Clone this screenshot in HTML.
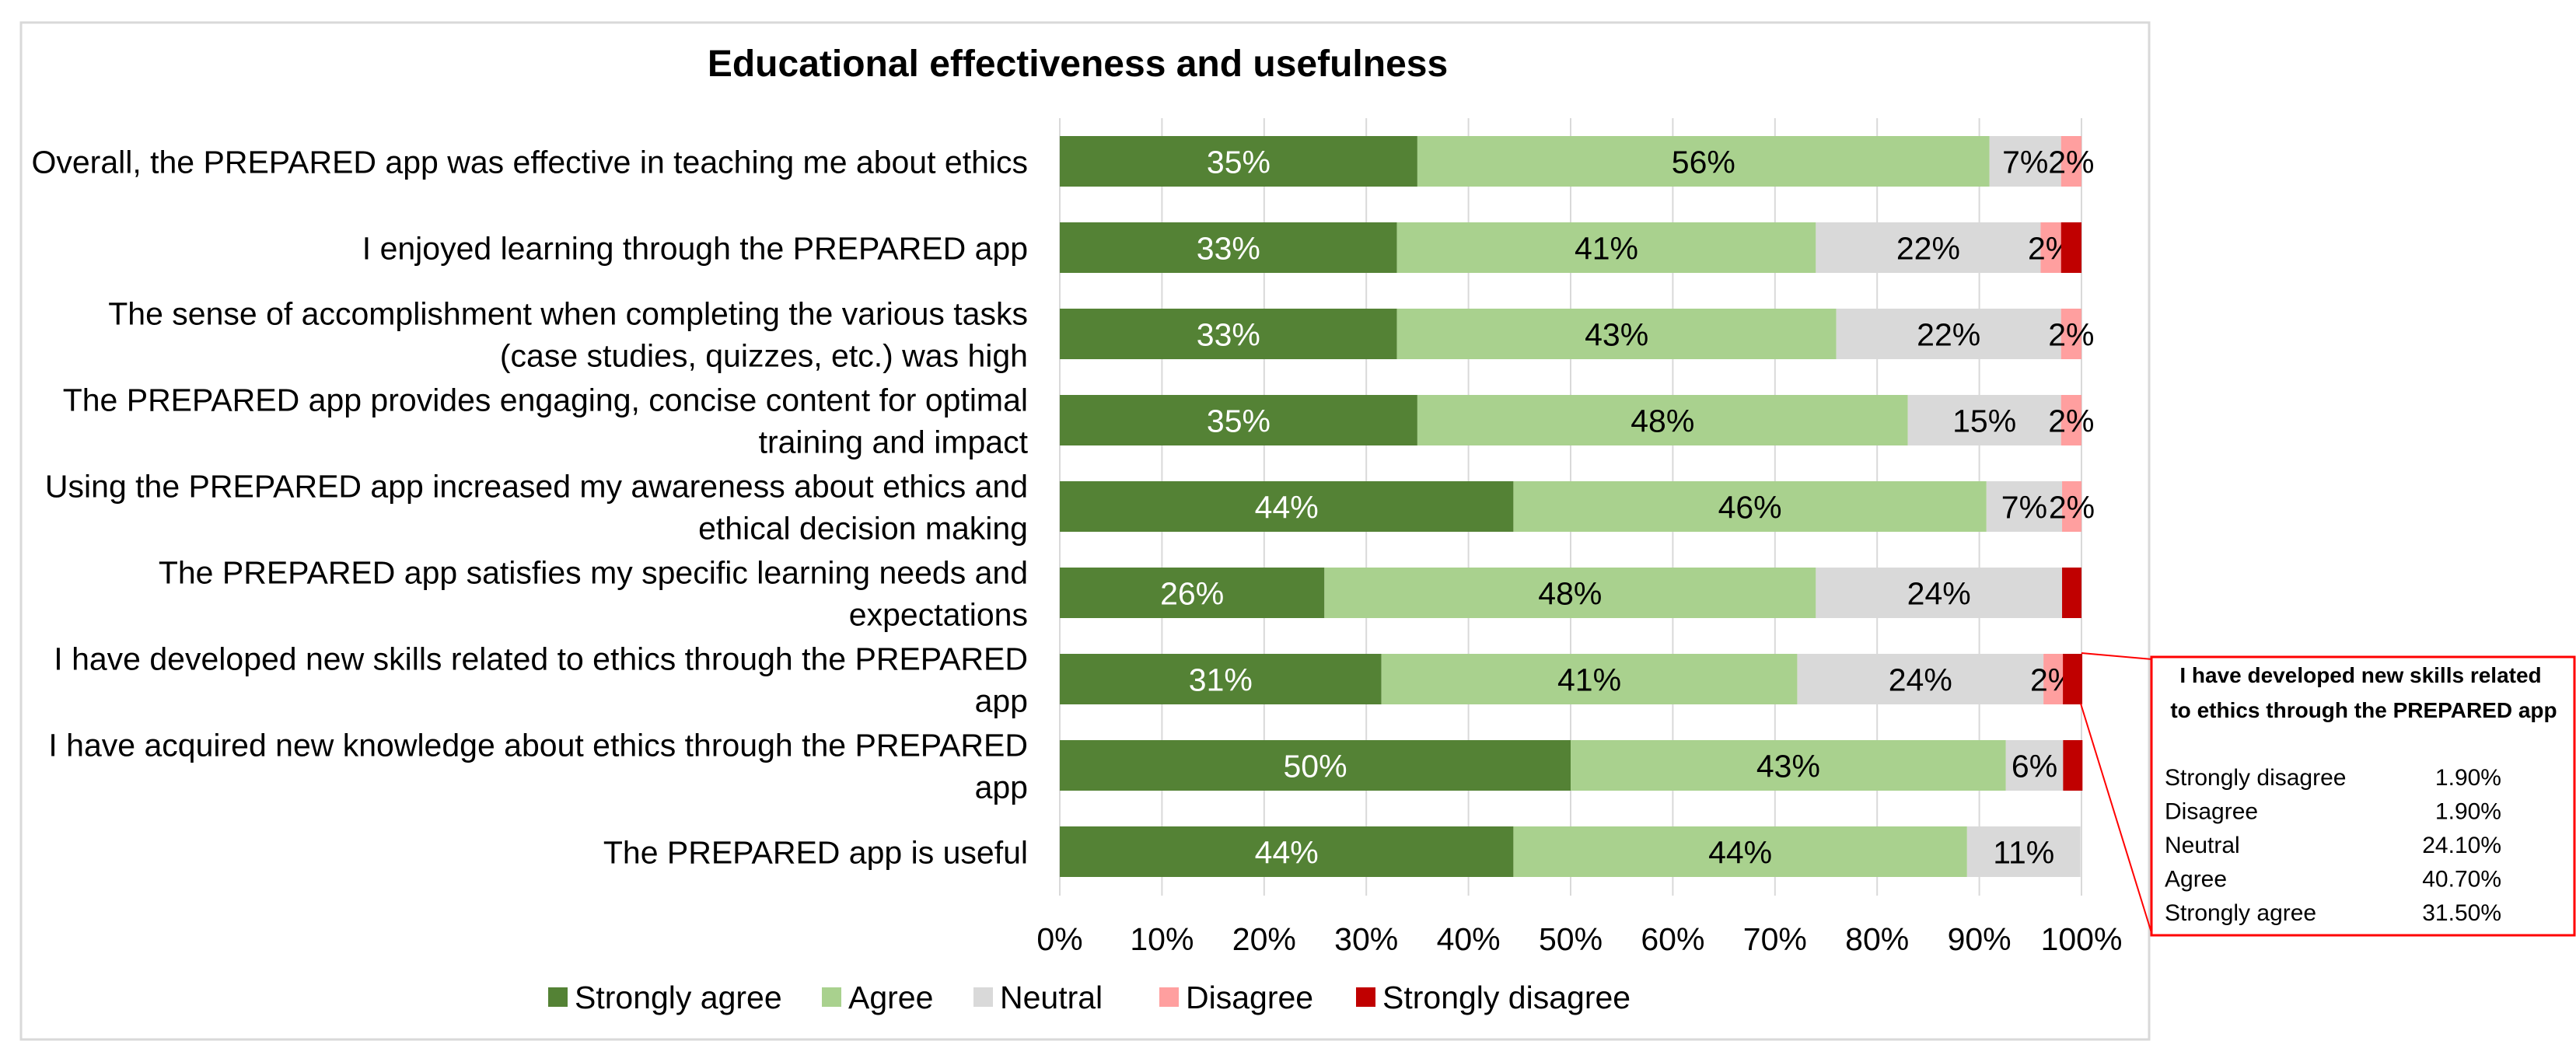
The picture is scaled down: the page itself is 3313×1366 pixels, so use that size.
<!DOCTYPE html>
<html><head><meta charset="utf-8"><style>
html,body{margin:0;padding:0;background:#fff;}
svg{display:block;font-family:"Liberation Sans",Arial,sans-serif;}
</style></head><body>
<svg id="chart" width="3313" height="1366" viewBox="0 0 3313 1366" xmlns="http://www.w3.org/2000/svg">
<rect x="27" y="29" width="2737" height="1308" fill="#fff" stroke="#d9d9d9" stroke-width="3"/>
<text x="1386" y="98" font-size="48" font-weight="bold" text-anchor="middle" fill="#000">Educational effectiveness and usefulness</text>
<g id="grid"></g>
<g id="bars"></g>
<g id="labels"></g>
<g id="ticks"></g>
<g id="legend"></g>
<g>
<line x1="2677" y1="840" x2="2768" y2="848" stroke="#ff0000" stroke-width="2"/>
<line x1="2676" y1="905" x2="2768" y2="1203" stroke="#ff0000" stroke-width="2"/>
<rect x="2767" y="845" width="544" height="358" fill="#fff" stroke="#ff0000" stroke-width="3"/>
<text x="3036" y="878" font-size="28" font-weight="bold" text-anchor="middle">I have developed new skills related</text>
<text x="3040" y="923" font-size="28" font-weight="bold" text-anchor="middle">to ethics through the PREPARED app</text>
<g id="callout-rows"></g>
</g>
</svg>
<script>
const categories = [
 ["Overall, the PREPARED app was effective in teaching me about ethics"],
 ["I enjoyed learning through the PREPARED app"],
 ["The sense of accomplishment when completing the various tasks","(case studies, quizzes, etc.) was high"],
 ["The PREPARED app provides engaging, concise content for optimal","training and impact"],
 ["Using the PREPARED app increased my awareness about ethics and","ethical decision making"],
 ["The PREPARED app satisfies my specific learning needs and","expectations"],
 ["I have developed new skills related to ethics through the PREPARED","app"],
 ["I have acquired new knowledge about ethics through the PREPARED","app"],
 ["The PREPARED app is useful"]
];
const seriesNames = ["Strongly agree","Agree","Neutral","Disagree","Strongly disagree"];
const stronglyAgree = [35, 33, 33, 35, 44.4, 25.9, 31.48, 50, 44.4];
const agree = [56, 41, 43, 48, 46.3, 48.1, 40.7, 42.6, 44.4];
const neutral = [7, 22, 22, 15, 7.4, 24.1, 24.1, 5.6, 11.1];
const disagree = [2, 2, 2, 2, 1.9, 0, 1.9, 0, 0];
const stronglyDisagree = [0, 2, 0, 0, 0, 1.9, 1.9, 1.9, 0];
const tickLabels = ["0%","10%","20%","30%","40%","50%","60%","70%","80%","90%","100%"];
const calloutLabels = ["Strongly disagree","Disagree","Neutral","Agree","Strongly agree"];
const calloutValues = ["1.90%","1.90%","24.10%","40.70%","31.50%"];

const NS="http://www.w3.org/2000/svg";
const colors=["#548235","#a9d18e","#d9d9d9","#ff9f9f","#c00000"];
const textColors=["#fff","#000","#000","#000",null];
const X0=1363, X1=2677, Y0=175, PITCH=111, BH=65, FS=41;
const xs=v=>X0+(X1-X0)*v/100;
const yRow=i=>Y0+i*PITCH;
function mk(tag,attrs,parent){const e=document.createElementNS(NS,tag);for(const k in attrs)e.setAttribute(k,attrs[k]);parent.appendChild(e);return e;}

const grid=document.getElementById('grid');
tickLabels.forEach((t,i)=>{
 const x=xs(i*10);
 const l=mk('line',{x1:x,x2:x,y1:152,y2:1152,stroke:'#d9d9d9','stroke-width':2},grid);
 
 
 const tx=mk('text',{x:x,y:1222,'font-size':FS,'text-anchor':'middle'},document.getElementById('ticks'));
 
 
 tx.textContent=t;
});

const series=[stronglyAgree,agree,neutral,disagree,stronglyDisagree];
const bars=document.getElementById('bars');
categories.forEach((cat,i)=>{
 let acc=0;
 const y=yRow(i);
 series.forEach((s,k)=>{
  const v=s[i];
  if(v>0){
   const r=mk('rect',{x:xs(acc),y:y,width:xs(acc+v)-xs(acc),height:BH,fill:colors[k]},bars);
   
   
   if(textColors[k]){
    const t=mk('text',{x:(xs(acc)+xs(acc+v))/2,y:y+BH/2+15,'font-size':FS,'text-anchor':'middle',fill:textColors[k]},bars);
    
    
    t.textContent=Math.round(v)+'%';
   }
  }
  acc+=v;
 });
 const lg=document.getElementById('labels');
 const cy=y+BH/2;
 cat.forEach((line,j)=>{
  const off=cat.length===1?0:(j===0?-27:27);
  const t=mk('text',{x:1322,y:cy+off+15,'font-size':FS,'text-anchor':'end'},lg);
  
  
  t.textContent=line;
 });
});

const legendSq=[705,1057,1252,1491,1744];
const lgd=document.getElementById('legend');
seriesNames.forEach((n,k)=>{
 const r=mk('rect',{x:legendSq[k],y:1270,width:25,height:25,fill:colors[k]},lgd);
 
 
 const t=mk('text',{x:legendSq[k]+34,y:1297,'font-size':FS},lgd);
 
 
 t.textContent=n;
});

const cr=document.getElementById('callout-rows');
calloutLabels.forEach((n,i)=>{
 const y=1010+i*43.5;
 const a=mk('text',{x:2784,y:y,'font-size':30},cr);
 
 
 a.textContent=n;
 const b=mk('text',{x:3217,y:y,'font-size':30,'text-anchor':'end'},cr);
 
 
 b.textContent=calloutValues[i];
});
</script>
</body></html>
